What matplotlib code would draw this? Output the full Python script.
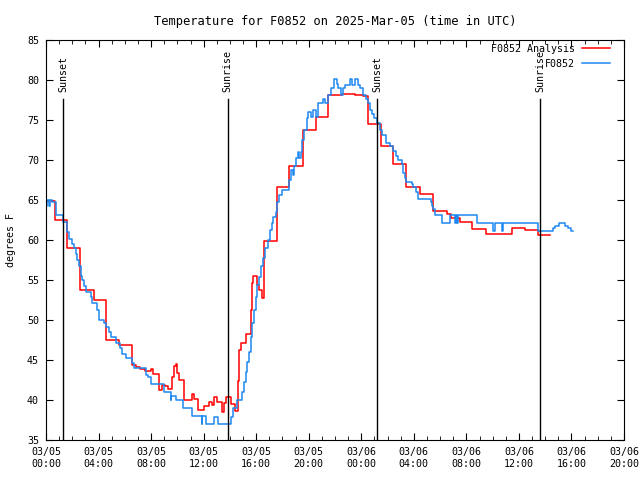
import matplotlib as mpl
import matplotlib.pyplot as plt

mpl.rcParams['font.family'] = 'DejaVu Sans Mono'
mpl.rcParams['font.size'] = 7.2

# hours after 2025-03-05 00:00 UTC
analysis_hours = [0.0, 0.66, 1.62, 2.59, 3.65, 4.6, 5.58, 6.57, 6.85, 7.16, 7.56, 8.0, 8.17,
                  8.58, 8.81, 9.06, 9.26, 9.61, 9.77, 9.87, 9.95, 10.15, 10.5, 11.14, 11.27,
                  11.6, 12.05, 12.43, 12.6, 12.79, 13.04, 13.38, 13.57, 13.68, 14.06, 14.39,
                  14.59, 14.69, 14.82, 14.87, 15.2, 15.58, 15.71, 15.78, 16.04, 16.24, 16.47,
                  16.57, 16.62, 17.55, 17.61, 18.52, 19.53, 20.53, 21.49, 22.51, 23.52, 24.15,
                  24.49, 24.53, 25.48, 26.44, 27.4, 28.47, 29.48, 30.5, 30.83, 31.52, 32.45,
                  33.5, 34.49, 35.51, 36.46, 37.48, 38.37]
analysis_temps = [64.9, 62.5, 59.0, 53.8, 52.5, 47.5, 46.9, 44.4, 44.1, 43.9, 43.6, 43.9, 43.3,
                  41.25, 41.9, 41.7, 41.4, 42.9, 44.2, 44.5, 43.4, 42.5, 40.0, 40.7, 40.1,
                  38.8, 39.2, 39.8, 39.4, 40.4, 39.7, 38.5, 39.6, 40.4, 39.5, 38.6,
                  42.4, 46.2, 46.7, 47.1, 48.3, 51.3, 54.6, 55.5, 54.4, 53.75, 52.8,
                  56.3, 59.9, 63.4, 66.6, 69.2, 73.7, 75.4, 78.1, 78.3, 78.1, 78.0,
                  77.1, 74.5, 71.75, 69.5, 66.6, 65.8, 63.6, 63.2, 62.7, 62.2, 61.4,
                  60.8, 60.7, 61.5, 61.3, 60.6, 60.6]

obs_hours = [0.0, 0.1, 0.2, 0.3, 0.45, 0.74, 1.32, 1.6, 1.77, 2.0, 2.13, 2.26, 2.38, 2.5,
             2.65, 2.77, 2.89, 3.02, 3.4, 3.48, 3.86, 4.0, 4.04, 4.42, 4.55, 4.8, 4.93,
             5.31, 5.63, 5.81, 6.07, 6.57, 6.7, 7.59, 7.78, 7.99, 8.99, 9.49, 9.54, 9.9,
             10.45, 11.09, 11.85, 11.9, 12.15, 12.8, 13.12, 14.0, 14.08, 14.26, 14.56,
             14.94, 15.1, 15.2, 15.32, 15.45, 15.61, 15.71, 15.83, 15.96, 16.09, 16.24,
             16.37, 16.5, 16.67, 16.88, 17.05, 17.18, 17.3, 17.49, 17.61, 17.76, 17.94,
             18.52, 18.65, 18.78, 18.9, 19.03, 19.16, 19.26, 19.39, 19.51, 19.66, 19.84,
             19.97, 20.17, 20.35, 20.53, 20.68, 21.11, 21.24, 21.49, 21.7, 21.95, 22.13,
             22.25, 22.46, 22.59, 22.76, 23.14, 23.32, 23.52, 23.72, 23.9, 24.15, 24.36,
             24.49, 24.66, 24.84, 24.99, 25.17, 25.43, 25.6, 25.88, 26.19, 26.39, 26.64,
             26.82, 27.08, 27.15, 27.2, 27.33, 27.41, 27.84, 27.96, 28.17, 28.34, 29.31,
             29.41, 29.48, 29.61, 30.12, 30.78, 31.14, 31.21, 31.31, 31.39, 32.81, 34.05,
             34.18, 34.71, 34.79, 37.43, 38.57, 38.75, 39.05, 39.51, 39.74, 39.97, 40.1]
obs_temps = [64.2, 65.0, 64.2, 65.0, 64.8, 63.1, 62.2, 61.0, 60.1, 59.5, 59.0, 58.3, 57.5, 56.7,
             55.5, 55.0, 54.2, 53.5, 52.9, 52.1, 51.25, 50.6, 50.0, 49.6, 49.1, 48.5, 47.9,
             47.1, 46.5, 45.8, 45.2, 44.6, 44.0, 43.1, 42.9, 42.0, 41.0, 40.0, 40.5, 40.0,
             39.0, 38.0, 37.0, 38.0, 37.0, 37.9, 37.0, 37.0, 37.9, 38.96, 40.0,
             41.0, 42.3, 43.5, 44.8, 46.0, 47.9, 49.6, 51.25, 52.9, 54.4, 55.4,
             56.7, 57.7, 59.0, 60.0, 61.25, 62.1, 62.9, 63.5, 64.8, 65.6, 66.25,
             67.5, 68.75, 68.1, 69.2, 70.3, 71.0, 70.2, 71.0, 72.5, 73.75, 75.2,
             76.0, 75.4, 76.25, 75.4, 77.1, 77.6, 77.1, 78.1, 79.0, 80.1, 79.5,
             79.0, 78.1, 79.0, 79.4, 80.1, 79.4, 80.1, 79.4, 79.0, 78.1, 77.6,
             77.1, 76.25, 75.8, 75.2, 74.6, 73.75, 73.1, 72.1, 71.7, 71.1, 70.5,
             70.0, 69.5, 69.0, 68.4, 67.7, 67.2, 67.0, 66.6, 66.0, 65.1, 64.8,
             64.3, 63.9, 63.1, 62.1, 63.1, 62.1, 63.1, 62.1, 63.1, 62.1, 61.1,
             62.1, 61.1, 62.1, 61.1, 61.5, 61.8, 62.1, 61.8, 61.5, 61.1, 61.1]

event_hours = [1.32, 13.83, 25.22, 37.63]
event_names = ['Sunset', 'Sunrise', 'Sunset', 'Sunrise']

tick_hours = list(range(0, 45, 4))
tick_labels = ['03/05\n00:00', '03/05\n04:00', '03/05\n08:00', '03/05\n12:00',
               '03/05\n16:00', '03/05\n20:00', '03/06\n00:00', '03/06\n04:00',
               '03/06\n08:00', '03/06\n12:00', '03/06\n16:00', '03/06\n20:00']

fig = plt.figure(figsize=(6.4, 4.8), dpi=100)
ax = fig.add_axes([46 / 640, 40 / 480, 578 / 640, 400 / 480])

ax.plot(analysis_hours, analysis_temps, drawstyle='steps-post', color='#ff0000', lw=1.1,
        label='F0852 Analysis')
ax.plot(obs_hours, obs_temps, drawstyle='steps-post', color='#1e88f0', lw=1.1, label='F0852')

for h, name in zip(event_hours, event_names):
    ax.plot([h, h], [35, 77.6], color='black', lw=1.0)
    ax.text(h, 78.5, name, rotation=90, ha='center', va='bottom')

ax.set_xlim(0, 44)
ax.set_ylim(35, 85)
ax.set_xticks(tick_hours)
ax.set_xticklabels(tick_labels)
ax.set_xticks(range(0, 45), minor=True)
ax.set_yticks(range(35, 86, 5))
ax.tick_params(which='both', direction='in', top=True, right=True, pad=5)
ax.tick_params(which='major', length=5)
ax.tick_params(which='minor', length=3)
ax.set_ylabel('degrees F', labelpad=8)
ax.set_title('Temperature for F0852 on 2025-Mar-05 (time in UTC)', pad=11)

ax.legend(loc='upper right', bbox_to_anchor=(0.976, 0.991), markerfirst=False, frameon=False,
          handlelength=2.8, borderaxespad=0, borderpad=0, labelspacing=0.5, handletextpad=0.7)

fig.savefig('out.png', dpi=100)
